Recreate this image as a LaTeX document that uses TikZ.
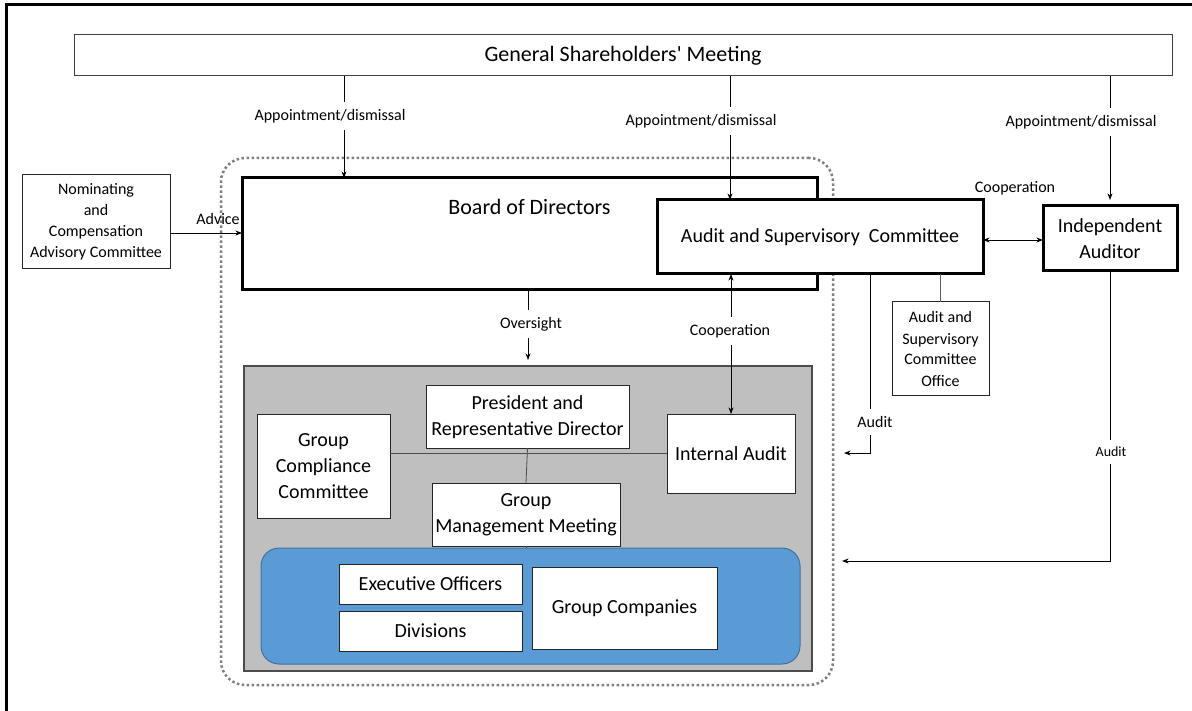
\documentclass[tikz,border=0pt]{standalone}
\usepackage{fontspec}
\setmainfont{Carlito}[Ligatures=TeXOff]
\usetikzlibrary{arrows.meta}
\definecolor{panelgray}{HTML}{BFBFBF}
\definecolor{unitblue}{HTML}{5B9BD5}
\definecolor{unitedge}{HTML}{41719C}

\begin{document}
\begin{tikzpicture}[x=1pt, y=-1pt, line width=0.8pt,
  box/.style={draw=black!85, line width=1pt, fill=white, inner sep=0pt, outer sep=0pt, align=center},
  bold/.style={draw=black, line width=3pt, fill=white, inner sep=0pt, outer sep=0pt, align=center, font=\fontsize{20}{26}\selectfont},
  big/.style={font=\fontsize{22}{26}\selectfont},
  mid/.style={font=\fontsize{20}{26}\selectfont},
  small/.style={font=\fontsize{16}{21}\selectfont},
  lbl/.style={fill=white, inner xsep=1pt, inner ysep=7pt, font=\fontsize{16}{19}\selectfont}]
  \useasboundingbox (0,0) rectangle (1192,711);

  % frame
  \draw [line width=3pt] (6,711) -- (6,5) -- (1192,5);

  \node [box, big, draw=black!75, minimum width=1098pt, minimum height=41pt] (gsm) at (623,55.5) {General Shareholders' Meeting};
  \node [box, small, minimum width=148pt, minimum height=94pt] (ncac) at (96,222) {Nominating\\and\\Compensation\\Advisory Committee};

  % company with audit and supervisory committee
  \node [draw=black!50, line width=2.5pt, dash pattern=on 2.5pt off 2.5pt, rounded corners=24pt, minimum width=612pt, minimum height=527pt, inner sep=0pt, outer sep=0pt] (audscope) at (527,421.5) {};

  \node [bold, minimum width=575pt, minimum height=112pt] (board) at (529.5,234) {};
  \node [big] (boardname) at (529.5,207) {Board of Directors};
  \node [bold, minimum width=326pt, minimum height=74pt] (asc) at (820,237) {Audit and Supervisory~~Committee};
  \node [bold, minimum width=134pt, minimum height=65pt] (iaud) at (1110,238.5) {Independent\\Auditor};
  \node [box, small, minimum width=97pt, minimum height=94pt] (ascoffice) at (940.5,349) {Audit and\\Supervisory\\Committee\\Office};

  % execution
  \node [draw=black!70, line width=1.2pt, fill=panelgray, minimum width=568pt, minimum height=305pt, inner sep=0pt, outer sep=0pt] (panel) at (528,518.5) {};
  \node [draw=unitedge, line width=1pt, fill=unitblue, rounded corners=18pt, minimum width=539pt, minimum height=116pt, inner sep=0pt, outer sep=0pt] (units) at (530.5,606) {};

  \node [box, mid, minimum width=203pt, minimum height=62pt] (pres) at (527.5,417) {President and\\Representative Director};
  \node [box, mid, minimum width=133pt, minimum height=104pt] (gcc) at (323.5,466) {Group\\Compliance\\Committee};
  \node [box, mid, minimum width=128pt, minimum height=79pt] (intaudit) at (731,453.5) {Internal Audit};
  \node [box, mid, minimum width=188pt, minimum height=63pt] (gmm) at (526,514.5) {Group\\Management Meeting};
  \node [box, mid, minimum width=183pt, minimum height=40pt] (execoff) at (430.5,584) {Executive Officers};
  \node [box, mid, minimum width=183pt, minimum height=40pt] (divs) at (430.5,631) {Divisions};
  \node [box, mid, minimum width=185pt, minimum height=82pt] (groupco) at (624.5,608) {Group Companies};

  \draw [black!70] (pres.south) -- (gmm.north);
  \draw [black!70] (gmm.south) -- (gmm.south |- units.north);
  \draw [black!70] (gcc.east |- intaudit.west) -- (intaudit.west);

  % appointment
  \draw [->,>=Stealth] (344,0 |- gsm.south) -- (344,0 |- board.north);
  \node [lbl] (appoint1) at (330,116) {Appointment/dismissal};
  \draw [->,>=Stealth] (730,0 |- gsm.south) -- (730,0 |- asc.north);
  \node [lbl] (appoint2) at (701,121) {Appointment/dismissal};
  \draw [->,>=Stealth, shorten >=6pt] (iaud.north |- gsm.south) -- (iaud.north);
  \node [lbl] (appoint3) at (1081,122) {Appointment/dismissal};

  \draw [->,>=Stealth] (ncac.east |- 0,233) -- (board.west |- 0,233);
  \node [small] (advice) at (218,219) {Advice};

  \draw [<->,>=Stealth] (asc.east |- 0,240) -- (iaud.west |- 0,240);
  \node [small] (coop1) at (1015,188) {Cooperation};

  \draw [->,>=Stealth, shorten >=6pt] (528,0 |- board.south) -- (528,0 |- panel.north);
  \node [lbl] (oversight) at (531,324) {Oversight};
  \draw [<->,>=Stealth] (intaudit.north |- asc.south) -- (intaudit.north);
  \node [lbl] (coop2) at (730,331) {Cooperation};

  \draw [black!65, line width=1pt] (ascoffice.north |- asc.south) -- (ascoffice.north);

  % audit
  \draw [->,>=Stealth, shorten >=11pt] (870,0 |- asc.south) -- (870,453) -- (audscope.east |- 0,453);
  \node [lbl] (audit1) at (875,422) {Audit};
  \draw [->,>=Stealth, shorten >=9pt] (iaud.south) -- (iaud.south |- 0,561) -- (audscope.east |- 0,561);
  \node [lbl, font=\fontsize{14}{17}\selectfont] (audit2) at (1111,452) {Audit};
\end{tikzpicture}
\end{document}
